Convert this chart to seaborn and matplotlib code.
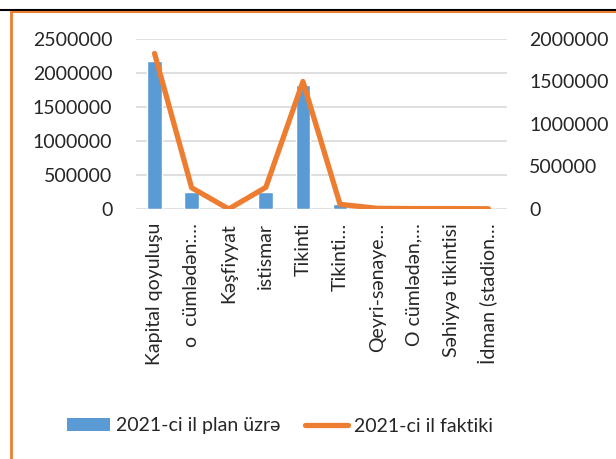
import numpy as np
import pandas as pd
import matplotlib
matplotlib.use("Agg")
import matplotlib.pyplot as plt
from matplotlib.lines import Line2D
from matplotlib.patches import Patch
import seaborn as sns

categories = ["Kapital qoyuluşu", "o  cümlədən:…", "Kəşfiyyat", "istismar", "Tikinti",
              "Tikinti…", "Qeyri-sənaye…", "O cümlədən,…", "Səhiyyə tikintisi", "İdman (stadion…"]
plan_2021 = [2170000, 250000, 0, 250000, 1820000, 70000, 0, 0, 0, 0]
fact_2021 = [1830000, 250000, 0, 255000, 1500000, 55000, 8000, 5000, 5000, 3000]
left_ticks = [0, 500000, 1000000, 1500000, 2000000, 2500000]
right_ticks = [0, 500000, 1000000, 1500000, 2000000]
series_names = ["2021-ci il plan üzrə", "2021-ci il faktiki"]

sns.set_style("white")
plt.rcParams['font.family'] = ['Lato', 'DejaVu Sans']

BLUE = "#5B9BD5"
ORANGE = "#ED7D31"
FS = 14

df = pd.DataFrame({"cat": categories, "plan": plan_2021, "fact": fact_2021,
                   "pos": np.arange(len(categories))})

fig = plt.figure(figsize=(6.16, 4.59), dpi=100)
ax = fig.add_axes([136/616, 1-209/459, (507-136)/616, (209-39)/459])

sns.barplot(data=df, x="cat", y="plan", color=BLUE, width=0.4, ax=ax, saturation=1)
ax.set_ylim(0, 2500000)
ax.set_yticks(left_ticks)
ax.set_yticklabels([str(v) for v in left_ticks], fontsize=FS)
ax.yaxis.grid(True, color="#D9D9D9", linewidth=1.2)
ax.set_axisbelow(True)
ax.set_xlabel("")
ax.set_ylabel("")
ax.tick_params(axis="y", length=0, pad=17)
ax.tick_params(axis="x", length=0, pad=10)
ax.set_xticks(range(len(categories)))
ax.set_xticklabels(categories, rotation=90, fontsize=FS, va="top", ha="center")
for s in ax.spines.values():
    s.set_visible(False)

ax2 = ax.twinx()
sns.lineplot(data=df, x="pos", y="fact", color=ORANGE, linewidth=3.8, ax=ax2,
             solid_capstyle="round")
ax2.set_ylim(0, 2000000)
ax2.set_xlim(-0.5, len(categories) - 0.5)
ax.set_xlim(-0.5, len(categories) - 0.5)
ax2.set_yticks(right_ticks)
ax2.set_yticklabels([str(v) for v in right_ticks], fontsize=FS)
ax2.tick_params(axis="y", length=0, pad=16)
ax2.set_ylabel("")
ax2.set_xlabel("")
ax2.grid(False)
for s in ax2.spines.values():
    s.set_visible(False)

handles = [Patch(facecolor=BLUE, edgecolor="none"),
           Line2D([0], [0], color=ORANGE, linewidth=3.8, solid_capstyle="round")]
fig.legend(handles, series_names, loc="center", bbox_to_anchor=(280/616, 1-426/459),
           ncol=2, frameon=False, fontsize=FS, handlelength=2.2, handleheight=0.65,
           columnspacing=1.3, handletextpad=0.3)

# frame lines
fig.add_artist(Line2D([0, 1], [1-9.5/459, 1-9.5/459], color="black", linewidth=1.5,
                      transform=fig.transFigure))
fig.add_artist(Line2D([11/616, 1], [1-11.5/459, 1-11.5/459], color=ORANGE, linewidth=1.5,
                      transform=fig.transFigure))
fig.add_artist(Line2D([11/616, 11/616], [1-11.5/459, 0], color=ORANGE, linewidth=2,
                      transform=fig.transFigure))

fig.savefig("out.png", dpi=100)
